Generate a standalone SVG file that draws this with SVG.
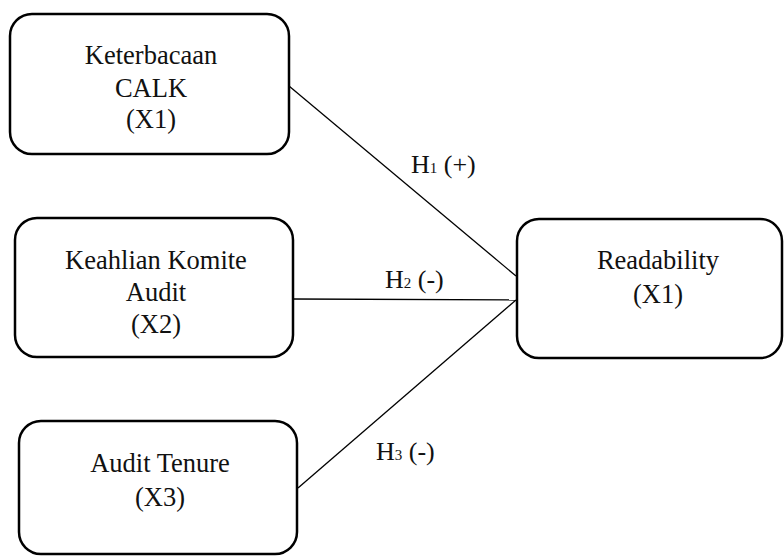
<svg xmlns="http://www.w3.org/2000/svg" width="784" height="556" viewBox="0 0 784 556">
<style>
.box{fill:#fff;stroke:#000;stroke-width:2.5}
.t{font-family:"Liberation Serif","Times New Roman",serif;font-size:26.5px;fill:#111;text-anchor:middle}
.lbl{font-family:"Liberation Serif","Times New Roman",serif;font-size:26px;fill:#111}
.sub{font-size:15px}
.edge{stroke:#000;stroke-width:1.3;fill:none}
</style>
<rect width="784" height="556" fill="#fff"/>
<g id="connectors">
<line class="edge" x1="289" y1="86" x2="516" y2="276"/>
<line class="edge" x1="293" y1="299" x2="516" y2="300"/>
<line class="edge" x1="298" y1="488" x2="516" y2="300"/>
<text class="lbl" x="411" y="173">H<tspan class="sub">1</tspan> (+)</text>
<text class="lbl" x="385" y="288">H<tspan class="sub">2</tspan> (-)</text>
<text class="lbl" x="376" y="460">H<tspan class="sub">3</tspan> (-)</text>
</g>
<g id="node-x1">
<rect class="box" x="10" y="14" width="279" height="140" rx="22"/>
<text class="t" x="151" y="64">Keterbacaan</text>
<text class="t" x="151" y="97">CALK</text>
<text class="t" x="151" y="128">(X1)</text>
</g>
<g id="node-x2">
<rect class="box" x="15" y="218" width="278" height="139" rx="22"/>
<text class="t" x="156" y="269">Keahlian Komite</text>
<text class="t" x="156" y="301">Audit</text>
<text class="t" x="156" y="333">(X2)</text>
</g>
<g id="node-x3">
<rect class="box" x="19" y="421" width="278" height="133" rx="22"/>
<text class="t" x="160" y="472">Audit Tenure</text>
<text class="t" x="160" y="506">(X3)</text>
</g>
<g id="node-y">
<rect class="box" x="517" y="219" width="265" height="139" rx="22"/>
<text class="t" x="658" y="269">Readability</text>
<text class="t" x="658" y="303">(X1)</text>
</g>
</svg>
